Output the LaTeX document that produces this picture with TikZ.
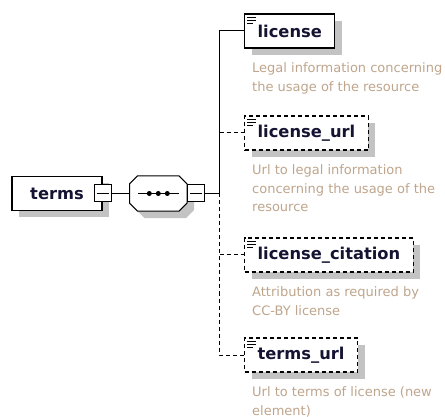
\documentclass[tikz,border=0pt]{standalone}
\usepackage{fontspec}
\setmainfont{DejaVu Sans}
\usepackage{tikz}
\usetikzlibrary{shapes,shadows,positioning}
\definecolor{shade}{RGB}{195,195,195}
\definecolor{notetext}{RGB}{190,165,140}
\definecolor{nametext}{RGB}{20,20,50}
\tikzstyle{elem}=[draw,line width=1.2pt,fill=white,minimum height=34pt,inner xsep=13pt,inner ysep=0pt,
    text=nametext,font=\fontsize{16.3}{19}\selectfont\bfseries,
    general shadow={fill=shade,shadow xshift=7pt,shadow yshift=-7pt}]
\tikzstyle{optional}=[dash pattern=on 4pt off 3pt]
\tikzstyle{collapse}=[draw,line width=1pt,fill=white,minimum size=17pt,inner sep=0pt]
\tikzstyle{compositor}=[minimum width=57pt,minimum height=35pt,inner sep=0pt]
\tikzstyle{octagon}=[draw,line width=1pt,fill=white,
    general shadow={fill=shade,shadow xshift=7pt,shadow yshift=-7pt}]
\tikzstyle{note}=[anchor=north west,align=left,inner sep=0pt,text=notetext,font=\fontsize{13}{18.5}\selectfont]
\tikzstyle{edge} = [draw,line width=1pt,-]

\begin{document}
\begin{tikzpicture}[x=1pt,y=-1pt]
    \useasboundingbox (0,0) rectangle (445,417);
    % The root element with its sequence
    \node[elem,minimum width=90pt] (terms) at (57,193.5) {terms};
    \node[collapse] (termsbox) at (terms.east) {};
    \node[compositor,right=18pt of termsbox] (seq) {};
    \path[octagon] ([xshift=8pt]seq.north west) -- ([xshift=-8pt]seq.north east)
        -- ([yshift=-8pt]seq.north east) -- ([yshift=8pt]seq.south east)
        -- ([xshift=-8pt]seq.south east) -- ([xshift=8pt]seq.south west)
        -- ([yshift=8pt]seq.south west) -- ([yshift=-8pt]seq.north west) -- cycle;
    \node[collapse,anchor=west] (seqbox) at (seq.east) {};
    \draw[line width=1pt] ([xshift=-20.5pt]seq.center) -- ([xshift=20.5pt]seq.center);
    \foreach \dx in {-9,0,9}
        \fill ([xshift=\dx pt]seq.center) circle (2.5);
    \foreach \name in {termsbox,seqbox}
        \draw[line width=1pt] ([xshift=3pt]\name.west) -- ([xshift=-3pt]\name.east);
    % Then the child elements
    \node[elem,anchor=west] (license) at (244,31) {license};
    \node[elem,optional,anchor=west] (licenseurl) at (244,133) {license\_url};
    \node[elem,optional,anchor=west] (licensecitation) at (244,255) {license\_citation};
    \node[elem,optional,anchor=west] (termsurl) at (244,355) {terms\_url};
    \foreach \name in {license,licenseurl,licensecitation,termsurl}
        \foreach \dy/\len in {4/9,7/9,10/6}
            \draw[line width=0.9pt] ([xshift=3pt,yshift=-\dy pt]\name.north west) -- ++(\len,0);
    % Annotations below each child
    \foreach \name/\text in {license/{Legal information concerning\\the usage of the resource},
        licenseurl/{Url to legal information\\concerning the usage of the\\resource},
        licensecitation/{Attribution as required by\\CC-BY license},
        termsurl/{Url to terms of license (new\\element)}}
        \node[note] (\name-note) at ([xshift=8pt,yshift=-14pt]\name.south west) {\text};
    % Connect everything
    \coordinate (trunk) at (219.5,193.5);
    \path[edge] (termsbox) -- (seq);
    \path[edge] (seqbox) -- (trunk);
    \path[edge] (trunk) |- (license);
    \path[edge,optional] (trunk) |- (termsurl);
    \foreach \dest in {licenseurl,licensecitation}
        \path[edge,optional] (trunk |- \dest.west) -- (\dest);
\end{tikzpicture}
\end{document}
